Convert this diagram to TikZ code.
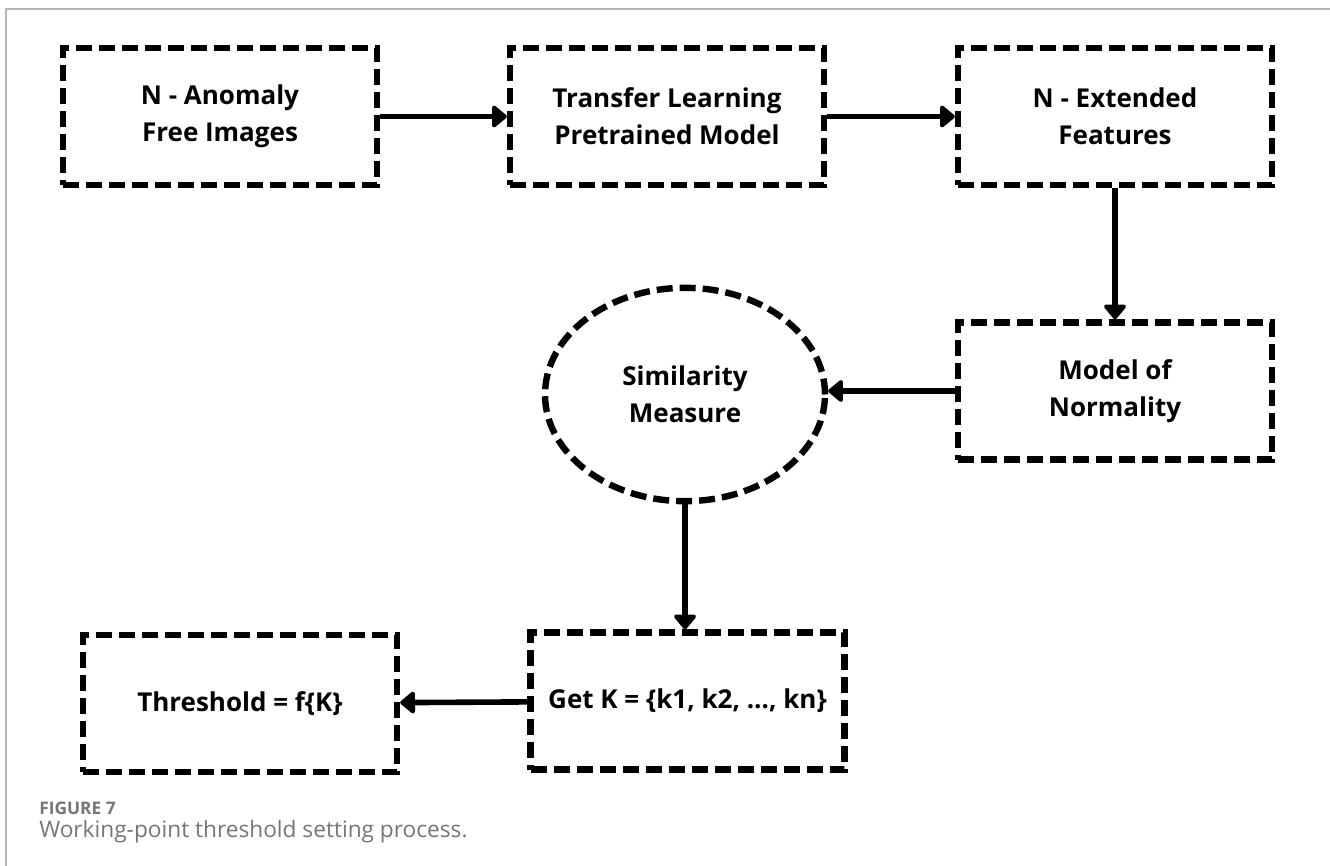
\documentclass[tikz,border=0pt]{standalone}
\usepackage{fontspec}
\setmainfont{Open Sans}
\usetikzlibrary{arrows.meta,shapes.geometric}
\definecolor{capgray}{HTML}{757575}
\definecolor{framegray}{HTML}{B4B4B4}
\tikzset{
  stagebox/.style={draw,line width=4.8pt,dash pattern=on 12pt off 5.25pt,
    minimum width=235.5pt,minimum height=102.75pt,inner sep=0pt,align=center,
    font=\fontsize{19.5}{28}\selectfont\bfseries},
  simnode/.style={stagebox,ellipse,minimum width=210pt,minimum height=160pt},
  flow/.style={line width=4.2pt,-{Triangle[length=12pt,width=19pt,round]}}
}
\begin{document}
\begin{tikzpicture}[x=0.75pt,y=-0.75pt]
\useasboundingbox (0,0) rectangle (1330,866);
\draw[framegray,line width=1.1pt] (6,866) -- (6,9) -- (1330,9);
% top row
\node[stagebox] (images)   at (220,116.5)  {N - Anomaly\\Free Images};
\node[stagebox] (pretrain) at (667,116.5)  {Transfer Learning\\Pretrained Model};
\node[stagebox] (features) at (1115,116.5) {N - Extended\\Features};
% middle row
\node[stagebox] (normal)   at (1115,391)   {Model of\\Normality};
\node[simnode]  (simil)    at (685,394.5)  {Similarity\\Measure};
% bottom row
\node[stagebox] (getk)     at (687.5,701)  {Get K = \{k1, k2, ..., kn\}};
\node[stagebox] (thresh)   at (240,703.5)  {Threshold = f\{K\}};
\draw[flow] (images) -- (pretrain);
\draw[flow] (pretrain) -- (features);
\draw[flow] (features) -- (normal);
\draw[flow] (normal) -- (normal -| simil.east);
\draw[flow] (simil) -- (simil |- getk.north);
\draw[flow] (getk) -- (thresh);
% caption
\node[anchor=west,text=capgray,font=\fontsize{13}{15}\selectfont\bfseries,inner sep=0pt] (figno) at (39,808) {FIGURE 7};
\node[anchor=west,text=capgray,font=\fontsize{17}{19}\selectfont,inner sep=0pt] (figtext) at (39,832) {Working-point threshold setting process.};
\end{tikzpicture}
\end{document}
